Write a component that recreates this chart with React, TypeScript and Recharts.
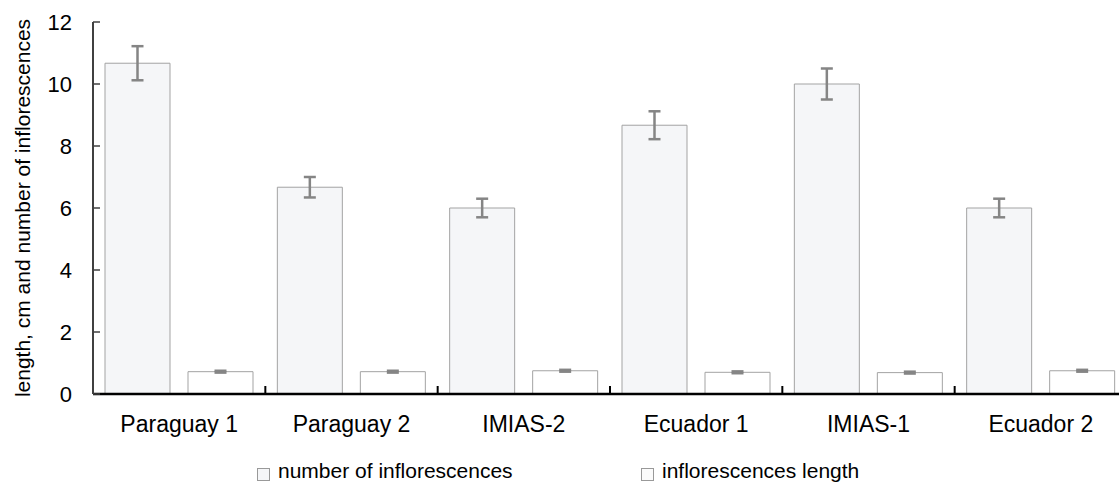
import { BarChart, Bar, XAxis, YAxis, ErrorBar, Legend } from "recharts";

const categories = ["Paraguay 1", "Paraguay 2", "IMIAS-2", "Ecuador 1", "IMIAS-1", "Ecuador 2"];
const inflorescenceCount = [10.67, 6.67, 6.0, 8.67, 10.0, 6.0];
const inflorescenceCountErr = [0.55, 0.33, 0.3, 0.45, 0.5, 0.3];
const inflorescenceLength = [0.72, 0.72, 0.75, 0.7, 0.69, 0.75];
const inflorescenceLengthErr = [0.03, 0.03, 0.03, 0.03, 0.03, 0.03];
const yTicks = [0, 2, 4, 6, 8, 10, 12];

const data = categories.map((name, i) => ({
  name,
  count: inflorescenceCount[i],
  countErr: inflorescenceCountErr[i],
  length: inflorescenceLength[i],
  lengthErr: inflorescenceLengthErr[i],
}));

const FONT = '"Liberation Sans", Arial, sans-serif';
const BAR_STROKE = "#a3a3a3";
const ERR = "#858585";

function YTick({ x, y, payload }: any) {
  return (
    <g>
      <line x1={x} x2={x + 7} y1={y} y2={y} stroke="#404040" strokeWidth={1.5} />
      <text x={x - 21} y={y} dy="0.36em" textAnchor="end" fontSize={22} fontFamily={FONT} fill="#000">
        {payload.value}
      </text>
    </g>
  );
}

function XTick({ x, y, payload, index }: any) {
  const half = payload.offset ?? 86;
  return (
    <g>
      {index > 0 && (
        <line x1={x - half} x2={x - half} y1={y} y2={y - 8} stroke="#000" strokeWidth={2} />
      )}
      <text x={x} y={y + 38} textAnchor="middle" fontSize={23} fontFamily={FONT} fill="#000">
        {payload.value}
      </text>
    </g>
  );
}

function YLabel({ viewBox }: any) {
  const cx = viewBox.x + 22;
  const cy = viewBox.y + viewBox.height / 2;
  return (
    <text
      x={cx}
      y={cy}
      transform={`rotate(-90 ${cx} ${cy})`}
      textAnchor="middle"
      dy="0.36em"
      fontSize={21}
      fontFamily={FONT}
      fill="#000"
    >
      length, cm and number of inflorescences
    </text>
  );
}

const legendItems = [
  { label: "number of inflorescences", fill: "#f5f6f8", left: 257 },
  { label: "inflorescences length", fill: "#fbfbfb", left: 641 },
];

function LegendContent() {
  return (
    <div style={{ position: "relative", height: 40, fontFamily: FONT, fontSize: 21, color: "#000" }}>
      {legendItems.map((it) => (
        <div key={it.label} style={{ position: "absolute", left: it.left, top: 15, display: "flex", alignItems: "flex-end", whiteSpace: "nowrap" }}>
          <span
            style={{
              display: "inline-block",
              width: 11,
              height: 11,
              border: "1px solid #999",
              background: it.fill,
              marginRight: 8,
              marginBottom: 2,
            }}
          />
          <span style={{ lineHeight: "24px" }}>{it.label}</span>
        </div>
      ))}
    </div>
  );
}

export default function App() {
  return (
    <div style={{ position: "absolute", left: 0, top: 0, width: 1119, height: 484, overflow: "hidden", background: "#fff" }}>
      <BarChart
        width={1130}
        height={484}
        data={data}
        margin={{ top: 22, right: 3, left: 0, bottom: 0 }}
        barCategoryGap={12}
        barGap={18}
      >
        <XAxis
          dataKey="name"
          height={50}
          axisLine={{ stroke: "#000", strokeWidth: 2.5 }}
          tickLine={false}
          tickSize={0}
          tickMargin={0}
          tick={<XTick />}
          interval={0}
        />
        <YAxis
          width={93}
          domain={[0, 12]}
          ticks={yTicks}
          axisLine={{ stroke: "#404040", strokeWidth: 2 }}
          tickLine={false}
          tickSize={0}
          tickMargin={0}
          tick={<YTick />}
          label={<YLabel />}
        />
        <Legend verticalAlign="bottom" height={40} content={<LegendContent />} />
        <Bar dataKey="count" fill="#f5f6f8" stroke={BAR_STROKE} strokeWidth={1} isAnimationActive={false}>
          <ErrorBar dataKey="countErr" width={6} stroke={ERR} strokeWidth={2.5} isAnimationActive={false} />
        </Bar>
        <Bar dataKey="length" fill="#ffffff" stroke={BAR_STROKE} strokeWidth={1} isAnimationActive={false}>
          <ErrorBar dataKey="lengthErr" width={6} stroke={ERR} strokeWidth={2.5} isAnimationActive={false} />
        </Bar>
      </BarChart>
    </div>
  );
}
